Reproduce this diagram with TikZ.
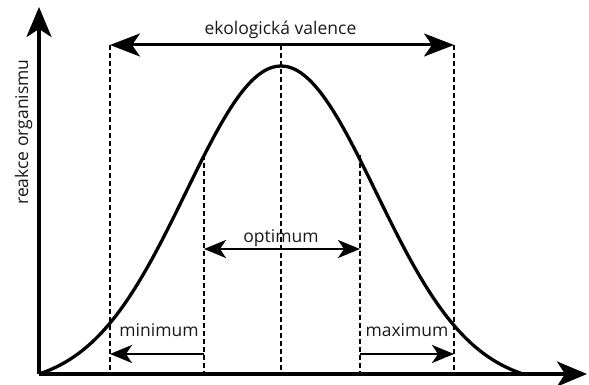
\documentclass[tikz,border=0pt]{standalone}
\usepackage{fontspec}
\setmainfont{Open Sans}
\usetikzlibrary{arrows.meta}
\begin{document}
\begin{tikzpicture}[x=1pt,y=1pt,
  axis/.style={line width=3.4pt,-{Stealth[length=30pt,width=25pt,inset=8pt]}},
  bigarrow/.style={line width=3pt,{Stealth[length=30pt,width=23pt,inset=8pt]}-{Stealth[length=30pt,width=23pt,inset=8pt]}},
  smallarrow/.style={line width=2.4pt,-{Stealth[length=22pt,width=18pt,inset=6pt]}},
  smallboth/.style={line width=2.4pt,{Stealth[length=22pt,width=18pt,inset=6pt]}-{Stealth[length=22pt,width=18pt,inset=6pt]}},
  guide/.style={line width=2pt,dash pattern=on 5pt off 3pt},
  lbl/.style={font=\fontsize{17.5}{20}\selectfont,inner sep=0pt,anchor=base,text=black!90}]
\useasboundingbox (0,0) rectangle (589,385);
% named points
\coordinate (O) at (39,11);
\coordinate (Ytip) at (39,378);
\coordinate (Xtip) at (587,11);
\coordinate (Vl) at (110,340);
\coordinate (Vr) at (454,340);
\coordinate (Vc) at (281,340);
\coordinate (Al) at (110,11);
\coordinate (Ar) at (454,11);
\coordinate (Ac) at (281,11);
\coordinate (Bl) at (204,11);
\coordinate (Br) at (360,11);
\coordinate (Cl) at (204,230);
\coordinate (Cr) at (360,230);
\coordinate (Ol) at (204,136);
\coordinate (Or) at (360,136);
\coordinate (Ml) at (204,31);
\coordinate (Mleft) at (110,31);
\coordinate (Xl) at (360,31);
\coordinate (Xr) at (454,31);
% dashed guides
\draw[guide] (Vl) -- (Al);
\draw[guide] (Vr) -- (Ar);
\draw[guide] (Vc) -- (Ac);
\draw[guide] (Cl) -- (Bl);
\draw[guide] (Cr) -- (Br);
% curve
\draw[line width=3.3pt] plot[domain=-2.5474:2.5474,samples=121,smooth]
  ({281+95*\x},{11+308*(exp(-0.5*\x*\x)-0.039)/0.961});
% axes
\draw[axis] (O) -- (Ytip);
\draw[axis] (O) -- (Xtip);
% arrows
\draw[bigarrow] (Vl) -- (Vr);
\draw[smallboth] (Ol) -- (Or);
\draw[smallarrow] (Ml) -- (Mleft);
\draw[smallarrow] (Xl) -- (Xr);
% labels
\node[lbl] (tval) at (280.5,350) {ekologická valence};
\node[lbl] (topt) at (281,142) {optimum};
\node[lbl] (tmin) at (159,48.5) {minimum};
\node[lbl] (tmax) at (407,48.5) {maximum};
\node[lbl,rotate=90] (ty) at (28,253) {reakce organismu};
\end{tikzpicture}
\end{document}
